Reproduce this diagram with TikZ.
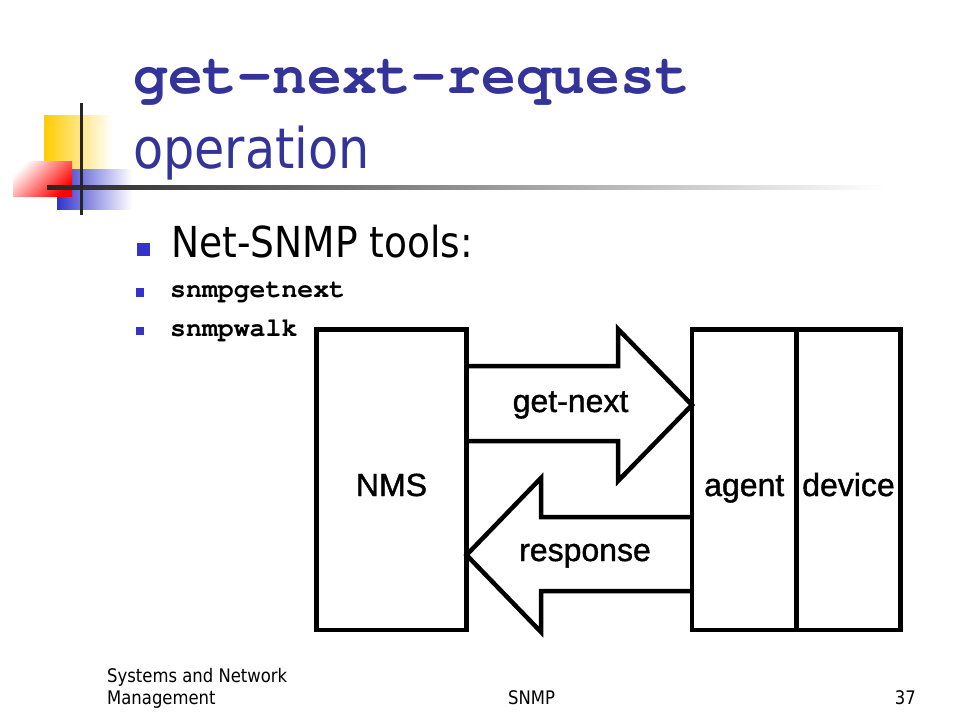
\documentclass[tikz,border=0pt]{standalone}
\usepackage{fontspec}
\newfontfamily\tahoma[FakeStretch=0.88]{DejaVu Sans}
\newfontfamily\arialfont[FakeBold=1.2]{Liberation Sans}
\newfontfamily\courierfont{texgyrecursor}[Extension=.otf, UprightFont=*-regular, BoldFont=*-bold]
\usepackage{tikz}
\usetikzlibrary{positioning}
\definecolor{titleblue}{RGB}{51,51,153}
\definecolor{bulletblue}{RGB}{51,51,204}
\definecolor{logoyellow}{RGB}{255,204,0}
\definecolor{logoblue}{RGB}{51,51,204}
\tikzstyle{box} = [draw, line width=4.5pt, inner sep=0pt, outer sep=0pt, minimum height=300.5pt, text height=32.5pt, text depth=0pt, font=\arialfont\fontsize{32}{36}\selectfont]
\tikzstyle{lbl} = [inner sep=0pt, anchor=base, font=\arialfont\fontsize{32}{36}\selectfont]
\tikzstyle{txt} = [inner sep=0pt, anchor=base west]
\tikzstyle{line} = [draw, line width=4.5pt, line join=miter]

\begin{document}
\begin{tikzpicture}[x=1pt, y=-1pt]
			\useasboundingbox [fill=white] (0,0) rectangle (960,720);
			% logo
			\shade [left color=logoyellow, middle color=logoyellow, right color=white] (44,115) rectangle (112,169);
			\shade [left color=logoblue, middle color=logoblue!85, right color=white] (57,169) rectangle (132,209);
			\shade [top color=red, bottom color=white, shading angle=-135] (13,161) rectangle (72,196);
			\shade [left color=black!85, right color=white] (47,185.5) rectangle (885,189.5);
			\draw [line width=3pt, black!85] (81.5,103) -- (81.5,215);
			
			% title and bullets
			\node [txt, titleblue, font=\courierfont\bfseries\fontsize{58}{60}\selectfont] (title) at (133,93) {get-next-request};
			\node [txt, titleblue, font=\tahoma\fontsize{56}{60}\selectfont] (oper) at (133,168) {operation};
			\fill [bulletblue] (137,243) rectangle (150,256);
			\fill [bulletblue] (136,288) rectangle (144,297);
			\fill [bulletblue] (136,327) rectangle (144,335);
			\node [txt, font=\tahoma\fontsize{42.7}{46}\selectfont] (tools) at (171,257) {Net-SNMP tools:};
			\node [txt, font=\courierfont\bfseries\fontsize{26.5}{30}\selectfont] (getnextcmd) at (170,297) {snmpgetnext};
			\node [txt, font=\courierfont\bfseries\fontsize{26.5}{30}\selectfont] (walkcmd) at (170,336) {snmpwalk};
			
			% boxes
			\node [box, minimum width=150pt] (nms) at (391.5,479.75) {NMS};
			\node [box, minimum width=104.5pt] (agent) at (744.25,479.75) {agent};
			\node [box, minimum width=104pt, right=0pt of agent] (device) {device};
			
			% arrows
			\path [line] (nms.east |- 0,366) -- (618,366) -- (618,329) -- (agent.west |- 0,405) -- (618,481) -- (618,441) -- (nms.east |- 0,441);
			\path [line] (agent.west |- 0,517) -- (541,517) -- (541,478) -- (nms.east |- 0,555) -- (541,632) -- (541,591) -- (agent.west |- 0,591);
			\node [lbl] (getnext) at (570.5,412) {get-next};
			\node [lbl] (response) at (585,561) {response};
			
			% footer
			\node [txt, font=\tahoma\fontsize{18.7}{22}\selectfont] (foot1) at (107,682) {Systems and Network};
			\node [txt, font=\tahoma\fontsize{18.7}{22}\selectfont] (foot2) at (107,704) {Management};
			\node [txt, font=\tahoma\fontsize{18.7}{22}\selectfont] (foot3) at (508,704) {SNMP};
			\node [txt, anchor=base east, font=\tahoma\fontsize{18.7}{22}\selectfont] (page) at (916,704) {37};
		\end{tikzpicture}
\end{document}
